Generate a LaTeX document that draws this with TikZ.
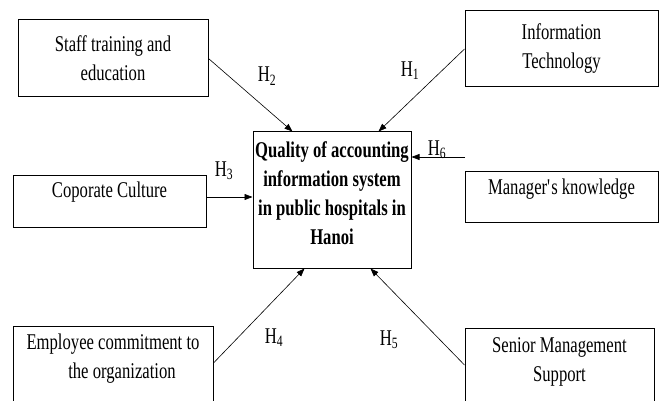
\documentclass[tikz,border=0pt]{standalone}
\usepackage{fontspec}
\setmainfont{Liberation Serif}[FakeStretch=0.74]
\usetikzlibrary{arrows.meta}
\newcommand{\diagfont}{\fontsize{22.5pt}{29pt}\selectfont}

\begin{document}
\begin{tikzpicture}[
        x=1pt, y=-1pt,
        every node/.style={font=\diagfont},
        frame/.style={draw, line width=1pt, inner sep=2pt, align=center},
        txt/.style={align=center, inner sep=0pt},
        hyp/.style={inner sep=0pt},
        arrow/.style={-{Triangle[length=8pt,width=6pt]}, line width=0.6pt}
    ]
        \useasboundingbox (0,0) rectangle (664,401);
        \clip (0,0) rectangle (664,401);

        \node[frame, minimum width=158pt, minimum height=136pt] (qais) at (332,200) {};
        \node[txt, font=\diagfont\bfseries] (qaistext) at ([yshift=-61.5pt]qais.north) {Quality of accounting\\information system\\in public hospitals in\\Hanoi};

        \node[frame, minimum width=190pt, minimum height=77pt] (staff) at (113,58.5) {Staff training and\\education};
        \node[frame, minimum width=193pt, minimum height=76pt] (it) at (561.5,49) {Information\\Technology};

        % boxes with the text set near the top
        \node[frame, minimum width=193pt, minimum height=52pt] (cc) at (109.5,201) {};
        \node[txt] (cctext) at ([yshift=-18pt]cc.north) {Coporate Culture};
        \node[frame, minimum width=193pt, minimum height=51pt] (mk) at (561.5,196.5) {};
        \node[txt] (mktext) at ([yshift=-19pt]mk.north) {Manager\textquotesingle s knowledge};
        \node[frame, minimum width=200pt, minimum height=94pt] (emp) at (113,373) {};
        \node[txt] (emptext) at ([yshift=-33pt]emp.north) {Employee commitment to\\\hspace*{18pt}the organization};
        \node[frame, minimum width=189pt, minimum height=92pt] (sen) at (559.5,374) {};
        \node[txt] (sentext) at ([yshift=-34pt]sen.north) {Senior Management\\Support};

        \coordinate (h6tail) at (465,157);

        \draw[arrow] (it.west) -- ([xshift=-33pt]qais.north east);
        \draw[arrow] (staff.east) -- ([xshift=40pt]qais.north west);
        \draw[arrow] ([yshift=4pt]cc.east) -- ([yshift=4pt]cc.east -| qais.west);
        \draw[arrow] ([yshift=10pt]emp.east) -- ([xshift=52pt]qais.south west);
        \draw[arrow] ([yshift=9pt]sen.west) -- ([xshift=-41pt]qais.south east);
        \draw[arrow] (h6tail) -- (h6tail -| qais.east);

        \node[hyp] (h1) at (410,71) {H\textsubscript{1}};
        \node[hyp] (h2) at (267,76) {H\textsubscript{2}};
        \node[hyp] (h3) at (224,171) {H\textsubscript{3}};
        \node[hyp] (h4) at (274,338) {H\textsubscript{4}};
        \node[hyp] (h5) at (389,340) {H\textsubscript{5}};
        \node[hyp] (h6) at (437,150) {H\textsubscript{6}};
    \end{tikzpicture}
\end{document}
